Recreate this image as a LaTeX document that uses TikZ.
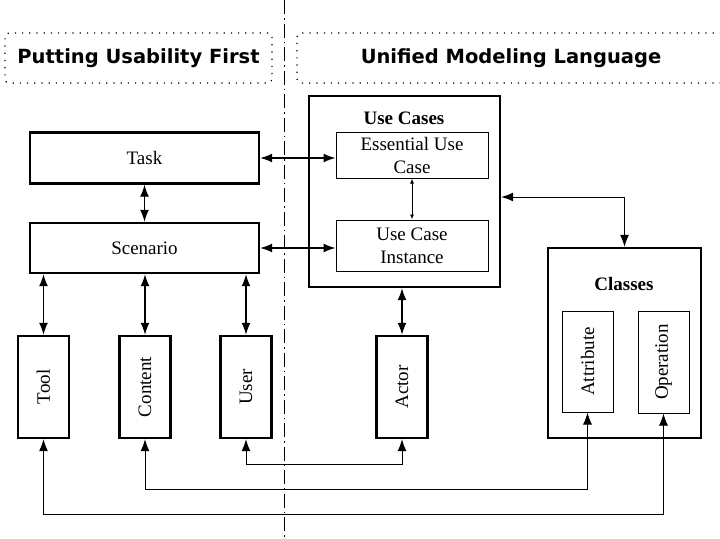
\documentclass[tikz,border=0pt]{standalone}
\usepackage{fontspec}
\setmainfont{Liberation Serif}
\newfontfamily\headfont{DejaVu Sans}
\usetikzlibrary{arrows.meta,positioning,calc}

\begin{document}
\begin{tikzpicture}[
  x=1pt,y=-1pt,
  title/.style={draw,dash pattern=on 1.2pt off 6pt,line width=1.2pt,rounded corners=4pt,inner sep=0pt,
    font=\headfont\bfseries\fontsize{19.5}{22}\selectfont},
  box/.style={draw,line width=2.4pt,inner sep=0pt,align=center,
    font=\fontsize{19}{23}\selectfont},
  part/.style={draw,line width=1pt,inner sep=0pt,align=center,
    font=\fontsize{19}{23}\selectfont},
  group/.style={font=\bfseries\fontsize{19}{23}\selectfont},
  arrow/.style={{Latex[length=12pt,width=9pt]}-{Latex[length=12pt,width=9pt]},line width=1.4pt},
  link/.style={{Latex[length=12pt,width=9pt]}-{Latex[length=12pt,width=9pt]},line width=1pt},
  small/.style={{Latex[length=5pt,width=4pt]}-{Latex[length=5pt,width=4pt]},line width=1pt},
  sep/.style={line width=1pt,dash pattern=on 14pt off 4pt on 1.5pt off 4pt}
]
\useasboundingbox (0,0) rectangle (720,538);
\fill[white] (0,0) rectangle (720,538);

% headings and divider
\node[title,minimum width=267pt,minimum height=50pt] (left) at (138.5,58) {Putting Usability First};
\node[title,minimum width=428pt,minimum height=50pt] (right) at (511,58) {Unified Modeling Language};
\coordinate (top) at (284,0);
\coordinate (bot) at (284,538);
\draw[sep] (top) -- (bot);

% usability side
\node[box,minimum width=229pt,minimum height=51pt] (task) at (144.5,158) {Task};
\node[box,minimum width=229pt,minimum height=50pt] (scen) at (144.5,248) {Scenario};
\foreach \n/\t/\x in {tool/Tool/43.5,content/Content/145,user/User/246,actor/Actor/402}{
  \node[box,minimum width=51pt,minimum height=102pt] (\n) at (\x,387) {};
  \node[rotate=90,font=\fontsize{19}{21}\selectfont] (\n-text) at (\n) {\t};
}

% use cases
\node[box,minimum width=191pt,minimum height=191pt] (usecases) at (404.5,191.5) {};
\node[group] (usecases-title) at (404,118) {Use Cases};
\node[part,minimum width=152pt,minimum height=46pt] (ess) at (412,155) {Essential Use\\Case};
\node[part,minimum width=152pt,minimum height=51pt] (inst) at (412,245.5) {Use Case\\Instance};

% classes
\node[box,minimum width=153pt,minimum height=190pt] (classes) at (624.5,343) {};
\node[group] (classes-title) at (624,284) {Classes};
\node[part,minimum width=51pt,minimum height=101pt] (attr) at (587.5,361.5) {};
\node[rotate=90,font=\fontsize{19}{21}\selectfont] (attr-text) at (attr) {Attribute};
\node[part,minimum width=51pt,minimum height=102pt] (oper) at (663.5,362) {};
\node[rotate=90,font=\fontsize{19}{21}\selectfont] (oper-text) at (oper) {Operation};

% connectors
\draw[arrow] (task) -- (scen);
\draw[arrow] (task.east) -- (task.east -| ess.west);
\draw[arrow] (scen.east) -- (scen.east -| inst.west);
\draw[small] (ess) -- (inst);
\foreach \n in {tool,content,user}{\draw[arrow] (scen.south -| \n) -- (\n.north);}
\draw[arrow] (usecases.south -| actor) -- (actor.north);
\draw[link] ([yshift=-5.5pt]usecases.east) -| (classes.north);
\draw[link] (user.south) -- ++(0,25) -| (actor.south);
\draw[link] (content.south) -- ++(0,50) -| (attr.south);
\draw[link] (tool.south) -- ++(0,75) -| (oper.south);
\end{tikzpicture}
\end{document}
